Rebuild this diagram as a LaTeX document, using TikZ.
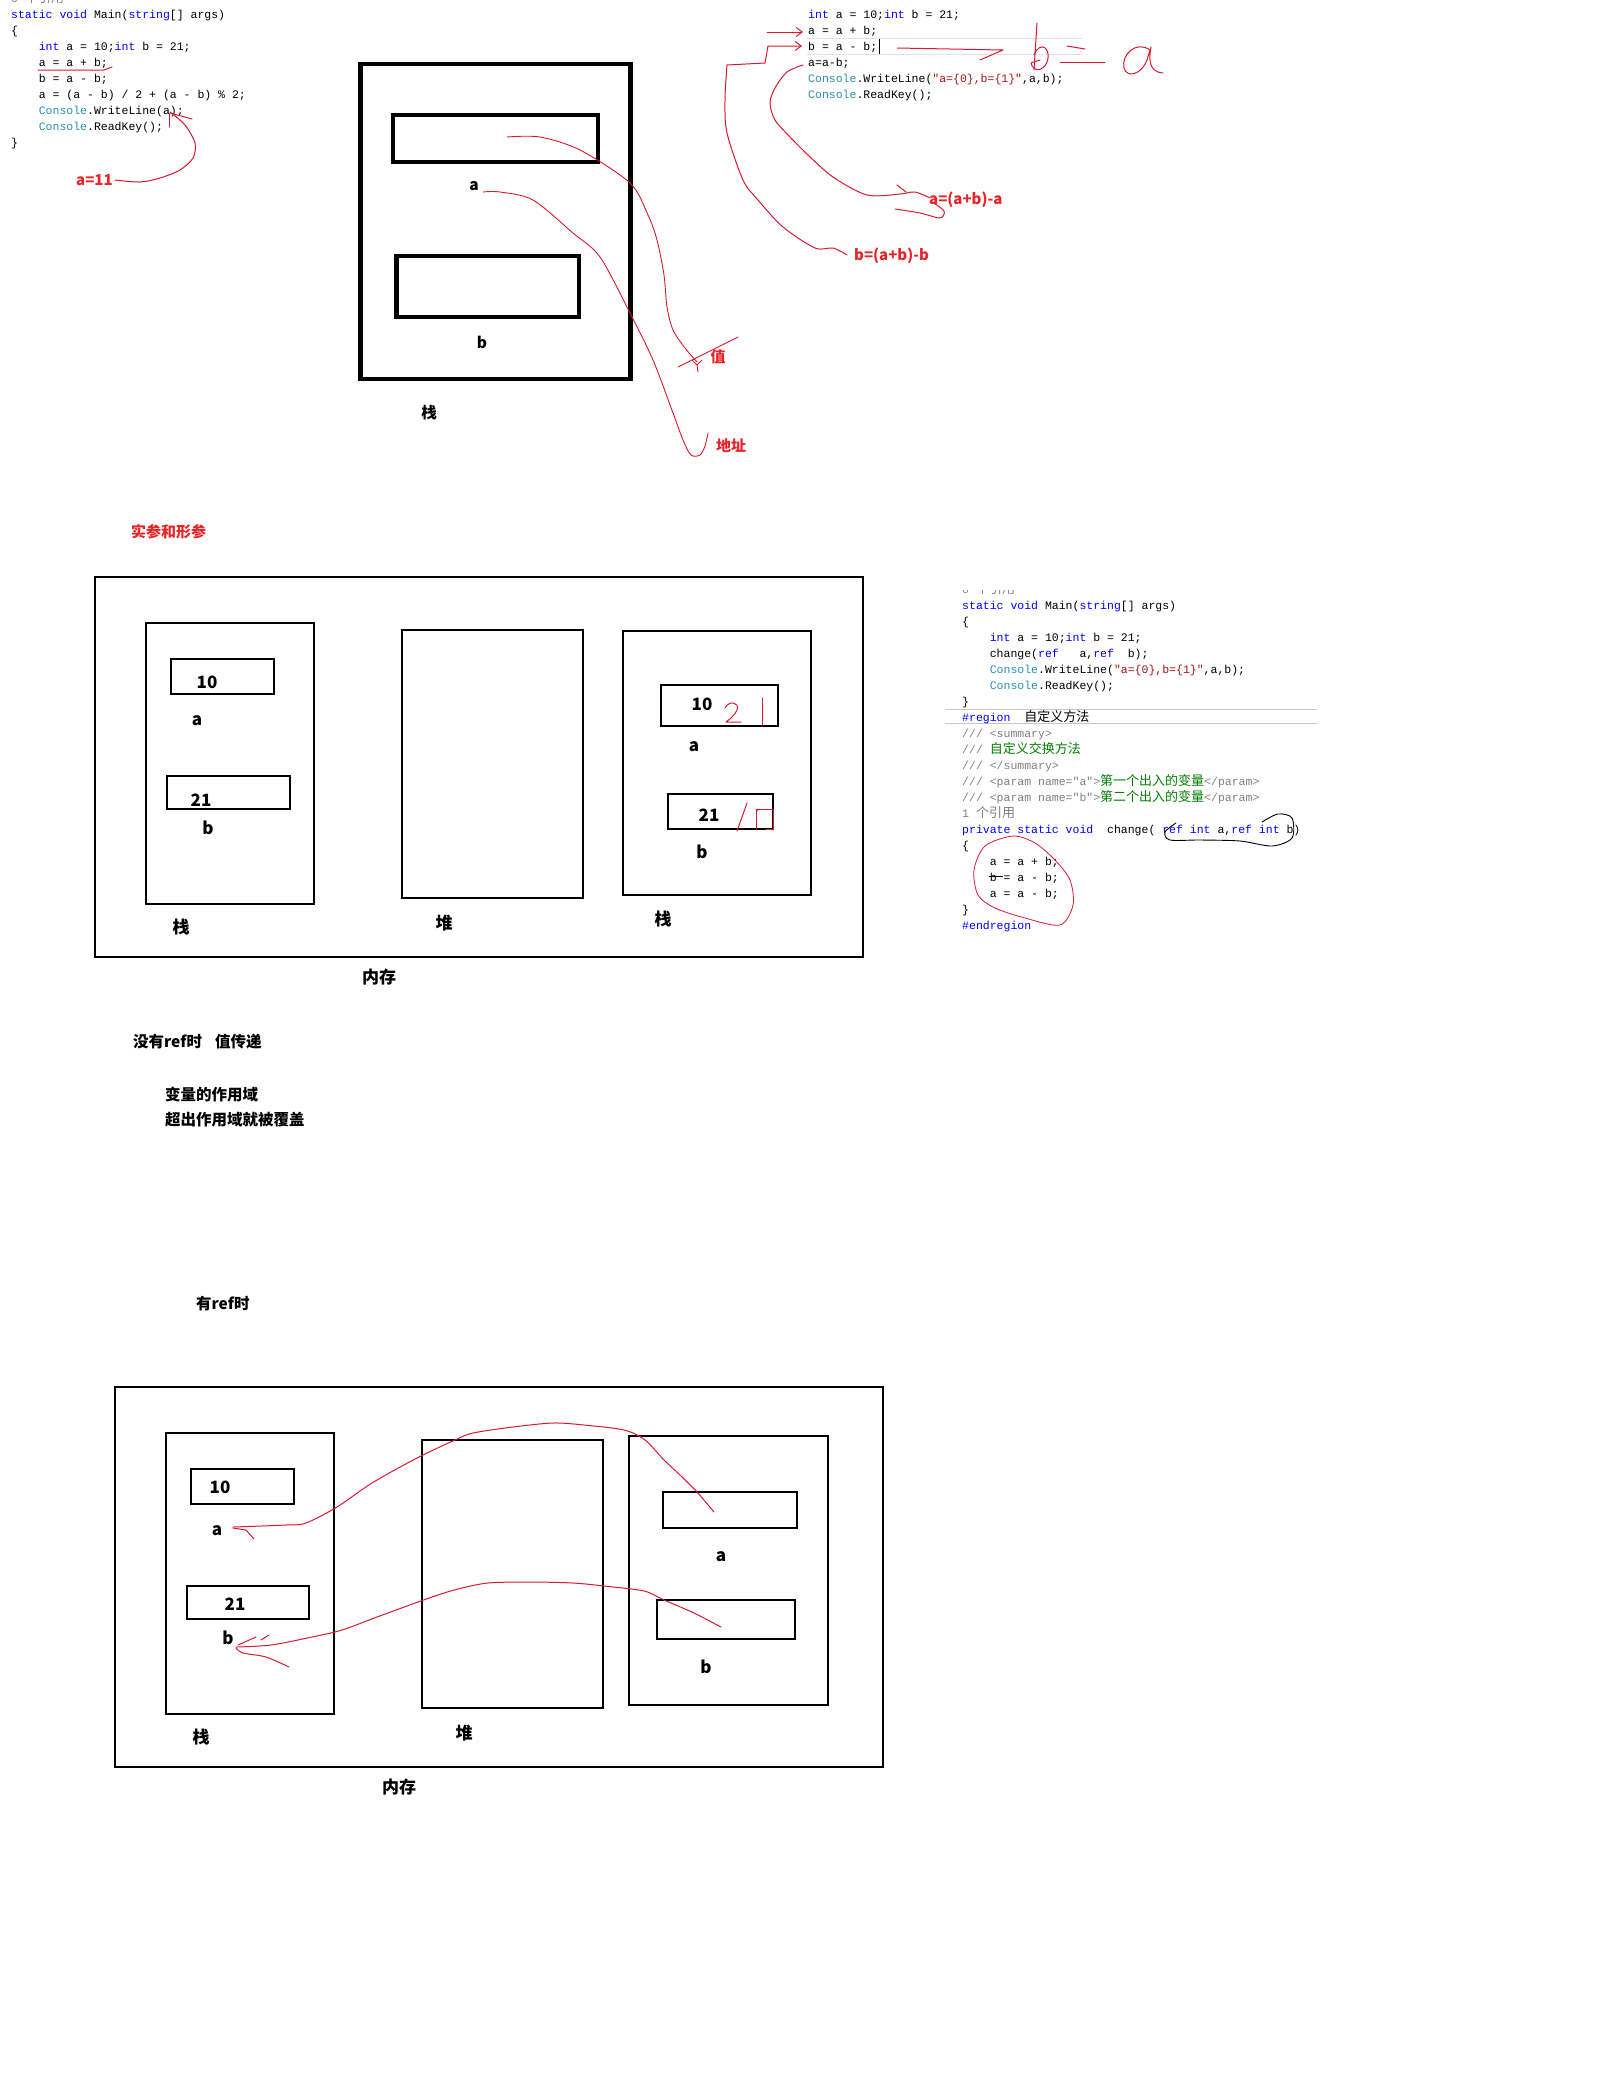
\documentclass[tikz,border=0pt]{standalone}
\usepackage{fontspec}
\setmainfont{Noto Sans CJK SC}
\newfontfamily\cjk{Noto Sans CJK SC}
\newfontfamily\codefont{Liberation Mono}
\usetikzlibrary{arrows.meta}
\definecolor{kwblue}{RGB}{0,0,255}
\definecolor{tealc}{RGB}{43,145,175}
\definecolor{strred}{RGB}{163,21,21}
\definecolor{cmtgray}{RGB}{128,128,128}
\definecolor{cmtgreen}{RGB}{0,128,0}
\definecolor{pen}{RGB}{215,25,50}
\definecolor{redtxt}{RGB}{232,36,40}
\definecolor{hlc}{RGB}{222,226,234}
\newcommand\kw[1]{\textcolor{kwblue}{#1}}
\newcommand\cn[1]{\textcolor{tealc}{#1}}
\newcommand\sq[1]{\textcolor{strred}{#1}}
\newcommand\cm[1]{\textcolor{cmtgray}{#1}}
\newcommand\zh[1]{{\cjk\fontsize{13}{13}\selectfont #1}}
\newcommand\gz[1]{\textcolor{cmtgreen}{\zh{#1}}}
\tikzset{
  code/.style={anchor=base west, inner sep=0pt, font=\codefont\fontsize{11.5}{11.5}\selectfont},
  lbl/.style={inner sep=0pt, font=\bfseries\fontsize{17}{17}\selectfont},
  slbl/.style={inner sep=0pt, font=\bfseries\fontsize{15.5}{15.5}\selectfont},
  rlbl/.style={inner sep=0pt, text=redtxt, font=\bfseries\fontsize{15}{15}\selectfont},
  thinbox/.style={draw=black, line width=1.2pt},
  thickbox/.style={draw=black, line width=4.3pt},
  hand/.style={draw=pen, line width=1pt, line cap=round, line join=round},
  barb/.style={-{Straight Barb[length=6pt,width=9pt]}}
}
\begin{document}
\begin{tikzpicture}[x=1pt,y=-1pt]
\useasboundingbox (0,0) rectangle (1620,2096);
\fill[white] (0,0) rectangle (1620,2096);

% ===== top-left code =====
\node[code] (tl0) at (11,2) {\cm{0 \zh{个引用}}};
\node[code] (tl1) at (11,18) {\kw{static} \kw{void} Main(\kw{string}[] args)};
\node[code] (tl2) at (11,34) {\{};
\node[code] (tl3) at (38.6,50) {\kw{int} a = 10;\kw{int} b = 21;};
\node[code] (tl4) at (38.6,66) {a = a + b;};
\node[code] (tl5) at (38.6,82) {b = a - b;};
\node[code] (tl6) at (38.6,98) {a = (a - b) / 2 + (a - b) \% 2;};
\node[code] (tl7) at (38.6,114) {\cn{Console}.WriteLine(a);};
\node[code] (tl8) at (38.6,130) {\cn{Console}.ReadKey();};
\node[code] (tl9) at (11,146) {\}};
\draw[hand] (38,70) -- (104,70) -- (112,67);
\node[rlbl, anchor=west] (a11) at (76,180) {a=11};
\draw[hand] plot[smooth] coordinates {(170,112) (185,125) (195,143) (193,158) (180,170) (160,178) (140,182) (115,180)};
\draw[hand] (170,113) -- (192,119);
\draw[hand] (169,114) -- (169,127);

% ===== top stack diagram =====
\draw[thickbox] (360.5,64) rectangle (630.5,379);
\draw[thickbox] (393,115) rectangle (598,162);
\draw[thickbox] (396.5,256) rectangle (579,317);
\node[slbl] (sa) at (474,186) {a};
\node[slbl] (sb) at (482,342) {b};
\node[slbl] (sz) at (429,413) {栈};
\draw[hand, line width=0.9pt] plot[smooth] coordinates {(507,137) (540,137) (580,150) (630,183) (648,215) (657,240) (664,275) (667,307) (673,330) (685,348) (697,362)};
\draw[hand, line width=0.9pt] (678,367) -- (738,337);
\draw[hand, line width=0.9pt] (692,360) -- (697,365) -- (702,360) (697,365) -- (698,372);
\draw[hand, line width=0.9pt] plot[smooth] coordinates {(483,192) (500,192) (533,200) (573,233) (600,257) (630,313) (653,360) (673,413) (683,440) (691,455) (700,455) (705,446) (708,433)};
\node[rlbl] (zhi) at (718,357) {值};
\node[rlbl] (dz) at (731,446) {地址};

% ===== top-right code =====
\draw[hlc, line width=1pt] (807,38) -- (1082,38);
\draw[hlc, line width=1pt] (807,54) -- (1082,54);
\node[code] (tr1) at (808,18) {\kw{int} a = 10;\kw{int} b = 21;};
\node[code] (tr2) at (808,34) {a = a + b;};
\node[code] (tr3) at (808,50) {b = a - b;};
\node[code] (tr4) at (808,66) {a=a-b;};
\node[code] (tr5) at (808,82) {\cn{Console}.WriteLine(\sq{"a=\{0\},b=\{1\}"},a,b);};
\node[code] (tr6) at (808,98) {\cn{Console}.ReadKey();};
\draw[black, line width=0.8pt] (879,39) -- (879,54);
\draw[hand, barb] (767,32) -- (803,32);
\draw[hand, barb] (727,65) -- (765,63) -- (768,46) -- (802,46);
\draw[hand] plot[smooth] coordinates {(727,65) (725,100) (727,133) (743,180) (758,200) (783,227) (815,248) (833,248) (847,255)};
\draw[hand] plot[smooth] coordinates {(803,65) (787,72) (775,88) (770,103) (775,120) (790,137) (808,155) (833,177) (867,195) (900,194) (915,192) (930,198)};
\draw[hand] (897,185) -- (906,192);
\draw[hand] plot[smooth] coordinates {(895,209) (920,213) (940,218) (944,211) (932,202)};
\node[rlbl, anchor=west] (lab1) at (929,200) {a=(a+b)-a};
\node[rlbl, anchor=west] (lab2) at (854,256) {b=(a+b)-b};
\draw[hand] (897,48) -- (1003,50) -- (980,60);
\draw[hand] (1037,23) -- (1034,70);
\draw[hand] (1034,55) .. controls (1040,40) and (1052,48) .. (1047,62) .. controls (1043,72) and (1033,72) .. (1031,63) -- (1040,60);
\draw[hand] (1067,46) -- (1085,49);
\draw[hand] (1060,62) -- (1105,62);
\draw[hand] (1150,50) .. controls (1136,40) and (1121,55) .. (1124,68) .. controls (1127,79) and (1142,74) .. (1147,60) .. controls (1149,54) .. (1151,47) .. controls (1149,58) and (1148,72) .. (1163,73);

% ===== section titles =====
\node[rlbl, anchor=west] (sc) at (131,532) {实参和形参};

% ===== middle diagram =====
\draw[thinbox] (95,577) rectangle (863,957);
\draw[thinbox] (146,623) rectangle (314,904);
\draw[thinbox] (171,659) rectangle (274,694);
\draw[thinbox] (167,776) rectangle (290,809);
\draw[thinbox] (402,630) rectangle (583,898);
\draw[thinbox] (623,631) rectangle (811,895);
\draw[thinbox] (661,685) rectangle (778,726);
\draw[thinbox] (668,794) rectangle (773,829);
\node[lbl] (m10) at (207,682) {10};
\node[lbl] (ma) at (197,721) {a};
\node[lbl] (m21) at (201,800) {21};
\node[lbl] (mb) at (208,828) {b};
\node[lbl] (mz1) at (181,927) {栈};
\node[lbl] (mdui) at (444,923) {堆};
\node[lbl] (m10r) at (702,704) {10};
\node[lbl] (mar) at (694,747) {a};
\node[lbl] (m21r) at (709,815) {21};
\node[lbl] (mbr) at (702,852) {b};
\node[lbl] (mz2) at (663,919) {栈};
\node[lbl] (mnc) at (379,977) {内存};
\draw[hand] (725,708) .. controls (729,700) and (740,702) .. (737,710) .. controls (735,715) and (730,719) .. (726,722) -- (741,722);
\draw[hand] (762,698) -- (762,725);
\draw[hand] (747,803) -- (737,831);
\draw[hand] (756,829) -- (756,809) -- (773,809) -- (773,829) -- (766,829);
\fill[pen] (757,810) circle (1.3pt);

% ===== right code block =====
\begin{scope}
\clip (940,590) rectangle (1320,600);
\node[code] (rc0) at (962,593) {\cm{0 \zh{个引用}}};
\end{scope}
\draw[black!22, line width=0.8pt] (945,709) -- (1317,709);
\draw[black!22, line width=0.8pt] (945,723) -- (1317,723);
\node[code] (rc1) at (962,609) {\kw{static} \kw{void} Main(\kw{string}[] args)};
\node[code] (rc2) at (962,625) {\{};
\node[code] (rc3) at (989.6,641) {\kw{int} a = 10;\kw{int} b = 21;};
\node[code] (rc4) at (989.6,657) {change(\kw{ref}\ \ \ a,\kw{ref}\ \ b);};
\node[code] (rc5) at (989.6,673) {\cn{Console}.WriteLine(\sq{"a=\{0\},b=\{1\}"},a,b);};
\node[code] (rc6) at (989.6,689) {\cn{Console}.ReadKey();};
\node[code] (rc7) at (962,705) {\}};
\node[code] (rc8) at (962,721) {\kw{\#region}\ \ \zh{自定义方法}};
\node[code] (rc9) at (962,737) {\cm{/// <summary>}};
\node[code] (rc10) at (962,753) {\cm{///} \gz{自定义交换方法}};
\node[code] (rc11) at (962,769) {\cm{/// </summary>}};
\node[code] (rc12) at (962,785) {\cm{/// <param name="a">}\gz{第一个出入的变量}\cm{</param>}};
\node[code] (rc13) at (962,801) {\cm{/// <param name="b">}\gz{第二个出入的变量}\cm{</param>}};
\node[code] (rc14) at (962,817) {\cm{1 \zh{个引用}}};
\node[code] (rc15) at (962,833) {\kw{private} \kw{static} \kw{void}\ \ change( \kw{ref} \kw{int} a,\kw{ref} \kw{int} b)};
\node[code] (rc16) at (962,849) {\{};
\node[code] (rc17) at (989.6,865) {a = a + b;};
\node[code] (rc18) at (989.6,881) {b = a - b;};
\node[code] (rc19) at (989.6,897) {a = a - b;};
\node[code] (rc20) at (962,913) {\}};
\node[code] (rc21) at (962,929) {\kw{\#endregion}};
\draw[black, line width=0.9pt] (989,876.5) -- (1003,876.5);
\draw[black, line width=0.9pt, line join=round] plot[smooth] coordinates {(1176,823) (1165,832) (1170,840) (1200,840) (1240,841) (1272,846) (1292,838) (1292,818) (1278,814) (1262,822)};
\draw[hand, line width=0.8pt] plot[smooth cycle] coordinates {(1013,836) (985,846) (974,870) (978,895) (995,908) (1025,918) (1060,925) (1073,905) (1070,880) (1055,860) (1035,843)};

% ===== notes =====
\node[slbl, anchor=west] (n1) at (133,1042) {没有ref时};
\node[slbl, anchor=west] (n2) at (215,1042) {值传递};
\node[slbl, anchor=west] (n3) at (165,1095) {变量的作用域};
\node[slbl, anchor=west] (n4) at (165,1120) {超出作用域就被覆盖};
\node[slbl, anchor=west] (n5) at (196,1304) {有ref时};

% ===== bottom diagram =====
\draw[thinbox] (115,1387) rectangle (883,1767);
\draw[thinbox] (166,1433) rectangle (334,1714);
\draw[thinbox] (191,1469) rectangle (294,1504);
\draw[thinbox] (187,1586) rectangle (309,1619);
\draw[thinbox] (422,1440) rectangle (603,1708);
\draw[thinbox] (629,1436) rectangle (828,1705);
\draw[thinbox] (663,1492) rectangle (797,1528);
\draw[thinbox] (657,1600) rectangle (795,1639);
\node[lbl] (b10) at (220,1487) {10};
\node[lbl] (ba) at (217,1531) {a};
\node[lbl] (b21) at (235,1604) {21};
\node[lbl] (bb) at (228,1638) {b};
\node[lbl] (bz1) at (201,1737) {栈};
\node[lbl] (bdui) at (464,1733) {堆};
\node[lbl] (bar) at (721,1557) {a};
\node[lbl] (bbr) at (706,1667) {b};
\node[lbl] (bnc) at (399,1787) {内存};
\draw[hand] plot[smooth] coordinates {(714,1512) (697,1492) (680,1475) (664,1460) (645,1440) (624,1430) (584,1425) (553,1423) (513,1427) (473,1433) (455,1440) (417,1458) (372,1483) (337,1507) (306,1523) (286,1525) (233,1527)};
\draw[hand] (233,1528) -- (246,1530) -- (254,1539);
\draw[hand] plot[smooth] coordinates {(721,1627) (694,1613) (664,1600) (644,1591) (604,1586) (573,1583) (530,1582) (488,1583) (458,1589) (432,1597) (377,1617) (342,1630) (312,1637) (271,1645) (236,1647)};
\draw[hand] (238,1645) -- (256,1637);
\draw[hand] (261,1640) -- (269,1635);
\draw[hand] plot[smooth] coordinates {(236,1648) (243,1653) (266,1657) (289,1667)};
\end{tikzpicture}
\end{document}
